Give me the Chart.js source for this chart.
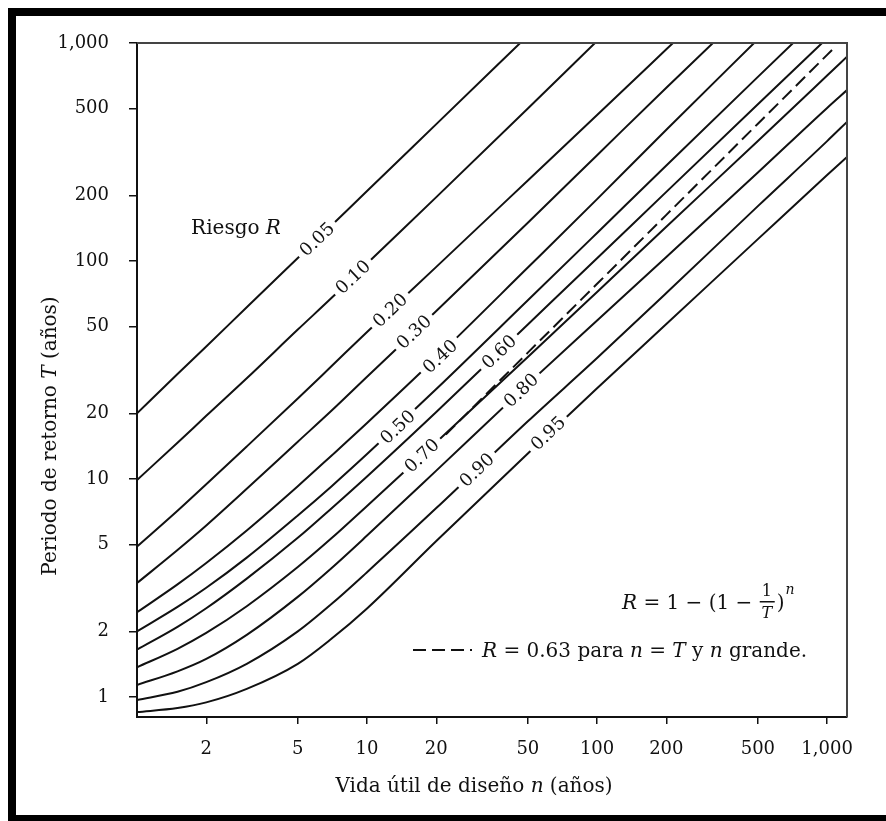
<!DOCTYPE html>
<html>
<head>
<meta charset="utf-8">
<script src="https://cdn.jsdelivr.net/npm/chart.js@4/dist/chart.umd.min.js"></script>
<style>
  html, body { margin: 0; padding: 0; background: #fff; }
  canvas { display: block; }
</style>
</head>
<body>
<canvas id="chart" width="886" height="821"></canvas>
<script>
// design life n (years), shared by every risk curve
const designLife = [1, 1.5, 2, 3, 5, 7, 10, 20, 50, 100, 200, 500, 1000, 1220];

// return period T (years) (null = above the plot)
const risk005 = [20, 30.3, 40.5, 61.4, 103.3, 145.6, 209.4, 424.6, 1081, null, null, null, null, null];
const risk010 = [9.9, 14.66, 19.49, 28.98, 48.47, 67.65, 97.45, 196.4, 500.8, 1022, null, null, null, null];
const risk020 = [4.9, 7.158, 9.472, 14.10, 23.40, 32.90, 47.26, 94.01, 234.3, 467.9, 935.4, 2338, null, null];
const risk030 = [3.333, 4.725, 6.122, 9.016, 14.83, 20.56, 29.46, 59.01, 149.9, 305.7, 623.8, 1575, null, null];
const risk040 = [2.448, 3.287, 4.120, 5.808, 9.268, 12.79, 18.07, 36.06, 93.32, 192.2, 400.0, 1040, null, null];
const risk050 = [2.0, 2.590, 3.171, 4.361, 6.807, 9.252, 13.02, 25.86, 66.05, 134.5, 274.1, 699.3, 1413, null];
const risk060 = [1.649, 2.097, 2.554, 3.492, 5.374, 7.333, 10.28, 20.31, 51.15, 102.9, 207.6, 523.6, 1052, null];
const risk070 = [1.370, 1.665, 1.968, 2.610, 3.947, 5.345, 7.525, 14.76, 36.26, 72.09, 143.7, 354.9, 709.4, 866];
const risk080 = [1.136, 1.312, 1.496, 1.929, 2.881, 3.900, 5.503, 10.93, 27.25, 53.4, 104.3, 254.6, 503.6, 608];
const risk090 = [0.97, 1.057, 1.17, 1.42, 2.00, 2.67, 3.74, 7.36, 18.4, 35.9, 71.3, 178.6, 354.8, 434.5];
const risk095 = [0.853, 0.89, 0.945, 1.09, 1.42, 1.85, 2.55, 5.2, 13.1, 26.1, 51.4, 126, 248, 300];

const riskLabels = ['0.05', '0.10', '0.20', '0.30', '0.40', '0.50', '0.60', '0.70', '0.80', '0.90', '0.95'];
const riskSeries = [risk005, risk010, risk020, risk030, risk040, risk050, risk060, risk070, risk080, risk090, risk095];

// dashed line R = 0.63 (n = T, large n)
const dashedLife = [22, 50, 100, 200, 500, 1000, 1090];
const dashedPeriod = [16.0, 38.0, 78.6, 162.8, 426.3, 882.2, 965.8];

// tick values
const xTicks = [2, 5, 10, 20, 50, 100, 200, 500, 1000];
const yTicks = [1, 2, 5, 10, 20, 50, 100, 200, 500, 1000];

const FONT = '"DejaVu Serif", "Liberation Serif", serif';
const INK = '#111';

// where each curve label sits, in data units (n, T)
const labelAnchors = [
  [6.06, 125.7], [8.69, 84.4], [12.59, 59.4], [16.0, 47.2], [20.8, 36.5],
  [13.6, 17.3], [37.5, 38.3], [17.3, 12.8], [46.8, 25.5], [30.0, 11.0], [61.2, 16.2]
];

function fmt(v) {
  return v === 1000 ? '1,000' : String(v);
}

// draws a run of text pieces, some of them in italics
function drawRich(ctx, parts, x, y, size, align) {
  let total = 0;
  const widths = parts.map(p => {
    ctx.font = (p[1] ? 'italic ' : '') + size + 'px ' + FONT;
    const w = ctx.measureText(p[0]).width;
    total += w;
    return w;
  });
  let cx = align === 'center' ? x - total / 2 : (align === 'right' ? x - total : x);
  ctx.textAlign = 'left';
  parts.forEach((p, i) => {
    ctx.font = (p[1] ? 'italic ' : '') + size + 'px ' + FONT;
    ctx.fillText(p[0], cx, y);
    cx += widths[i];
  });
  return cx;
}

const decorations = {
  id: 'decorations',
  beforeDraw(chart) {
    const ctx = chart.ctx;
    ctx.save();
    ctx.fillStyle = '#fff';
    ctx.fillRect(0, 0, chart.width, chart.height);
    // black photo frame
    ctx.fillStyle = '#000';
    ctx.fillRect(8, 8, chart.width - 8, 8);
    ctx.fillRect(8, 8, 8, chart.height - 8);
    ctx.fillRect(8, 815, chart.width - 8, 6);
    ctx.restore();
  },
  afterDatasetsDraw(chart) {
    const ctx = chart.ctx;
    const xs = chart.scales.x, ys = chart.scales.y;
    const area = chart.chartArea;
    ctx.save();

    // top and right sides of the plot box
    ctx.strokeStyle = '#444';
    ctx.lineWidth = 2;
    ctx.beginPath();
    ctx.moveTo(area.left, area.top);
    ctx.lineTo(area.right, area.top);
    ctx.lineTo(area.right, area.bottom);
    ctx.stroke();

    // rotated curve labels, each cutting a gap in its line
    const ang = -Math.atan2(ys.getPixelForValue(1) - ys.getPixelForValue(10),
      xs.getPixelForValue(10) - xs.getPixelForValue(1));
    ctx.font = '18px ' + FONT;
    ctx.textBaseline = 'middle';
    ctx.textAlign = 'center';
    riskLabels.forEach((lab, i) => {
      const px = xs.getPixelForValue(labelAnchors[i][0]);
      const py = ys.getPixelForValue(labelAnchors[i][1]);
      const w = ctx.measureText(lab).width;
      ctx.save();
      ctx.translate(px, py);
      ctx.rotate(ang);
      ctx.fillStyle = '#fff';
      ctx.fillRect(-w / 2 - 5, -9, w + 10, 18);
      ctx.fillStyle = INK;
      ctx.fillText(lab, 0, 1);
      ctx.restore();
    });

    ctx.fillStyle = INK;
    ctx.textBaseline = 'alphabetic';

    // "Riesgo R"
    drawRich(ctx, [['Riesgo ', false], ['R', true]], 236, 234, 20, 'center');

    // formula R = 1 - (1 - 1/T)^n
    let cx = drawRich(ctx, [['R', true], [' = 1 \u2212 (1 \u2212 ', false]], 622, 609, 20, 'left');
    ctx.font = '16px ' + FONT;
    ctx.textAlign = 'center';
    ctx.fillText('1', cx + 8, 596);
    ctx.font = 'italic 16px ' + FONT;
    ctx.fillText('T', cx + 8, 618);
    ctx.fillRect(cx + 1, 601, 15, 1.5);
    ctx.textAlign = 'left';
    cx = drawRich(ctx, [[')', false]], cx + 18, 609, 20, 'left');
    drawRich(ctx, [['n', true]], cx + 1, 594, 14, 'left');

    // legend for the dashed line
    ctx.strokeStyle = INK;
    ctx.lineWidth = 2;
    ctx.setLineDash([13, 6]);
    ctx.beginPath();
    ctx.moveTo(413, 650);
    ctx.lineTo(472, 650);
    ctx.stroke();
    ctx.setLineDash([]);
    drawRich(ctx, [['R', true], [' = 0.63 para ', false], ['n', true], [' = ', false], ['T', true],
      [' y ', false], ['n', true], [' grande.', false]], 482, 657, 20, 'left');

    // axis titles
    drawRich(ctx, [['Vida \u00fatil de dise\u00f1o ', false], ['n', true], [' (a\u00f1os)', false]], 474, 792, 20, 'center');
    ctx.save();
    ctx.translate(56, 436);
    ctx.rotate(-Math.PI / 2);
    drawRich(ctx, [['Periodo de retorno ', false], ['T', true], [' (a\u00f1os)', false]], 0, 0, 20, 'center');
    ctx.restore();

    ctx.restore();
  }
};

const datasets = riskSeries.map((vals, i) => ({
  label: 'R = ' + riskLabels[i],
  data: designLife.map((n, j) => ({ x: n, y: vals[j] })),
  borderColor: INK,
  borderWidth: 2,
  pointRadius: 0,
  fill: false,
  cubicInterpolationMode: 'monotone'
}));
datasets.push({
  label: 'R = 0.63',
  data: dashedLife.map((n, j) => ({ x: n, y: dashedPeriod[j] })),
  borderColor: INK,
  borderWidth: 2,
  borderDash: [13, 6],
  pointRadius: 0,
  fill: false
});

new Chart(document.getElementById('chart'), {
  type: 'line',
  data: { datasets: datasets },
  options: {
    responsive: false,
    animation: false,
    devicePixelRatio: 1,
    layout: { padding: { top: 43, right: 39, left: 0, bottom: 0 } },
    plugins: {
      legend: { display: false },
      tooltip: { enabled: false }
    },
    scales: {
      x: {
        type: 'logarithmic',
        min: 1,
        max: 1220,
        afterBuildTicks(scale) {
          scale.ticks = xTicks.map(v => ({ value: v }));
        },
        afterFit(scale) { scale.height = 104; },
        ticks: {
          autoSkip: false,
          maxRotation: 0,
          padding: 15,
          color: INK,
          font: { family: FONT, size: 18 },
          callback: v => fmt(v)
        },
        grid: { drawOnChartArea: false, drawTicks: true, tickLength: 7, color: INK, lineWidth: 1.5 },
        border: { display: true, color: INK, width: 2 }
      },
      y: {
        type: 'logarithmic',
        min: 0.81,
        max: 1000,
        afterBuildTicks(scale) {
          scale.ticks = yTicks.map(v => ({ value: v }));
        },
        afterFit(scale) { scale.width = 137; },
        ticks: {
          autoSkip: false,
          padding: 20,
          color: INK,
          font: { family: FONT, size: 18 },
          callback: v => fmt(v)
        },
        grid: { drawOnChartArea: false, drawTicks: true, tickLength: 8, color: INK, lineWidth: 1.5 },
        border: { display: true, color: INK, width: 2 }
      }
    }
  },
  plugins: [decorations]
});
</script>
</body>
</html>
